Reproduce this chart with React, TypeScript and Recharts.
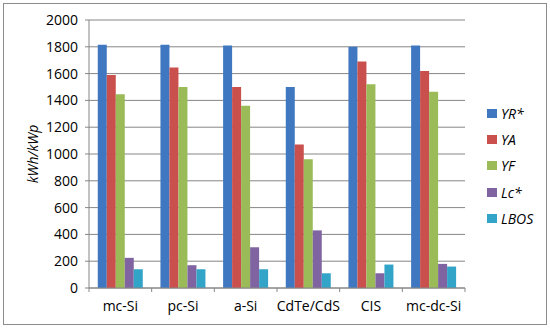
import { BarChart, Bar, XAxis, YAxis, CartesianGrid } from 'recharts';

const categories = ['mc-Si', 'pc-Si', 'a-Si', 'CdTe/CdS', 'CIS', 'mc-dc-Si'];
const yr = [1815, 1815, 1810, 1500, 1800, 1810];
const ya = [1590, 1645, 1500, 1070, 1690, 1620];
const yf = [1445, 1500, 1360, 960, 1520, 1465];
const lc = [225, 170, 305, 430, 110, 180];
const lbos = [140, 140, 140, 110, 175, 160];
const yTicks = [0, 200, 400, 600, 800, 1000, 1200, 1400, 1600, 1800, 2000];

const series = [
  { key: 'yr', name: 'YR*', color: '#3f78c1' },
  { key: 'ya', name: 'YA', color: '#c9504d' },
  { key: 'yf', name: 'YF', color: '#9bbb59' },
  { key: 'lc', name: 'Lc*', color: '#8064a2' },
  { key: 'lbos', name: 'LBOS', color: '#32a4c8' },
];

const data = categories.map((c, i) => ({
  cat: c,
  yr: yr[i],
  ya: ya[i],
  yf: yf[i],
  lc: lc[i],
  lbos: lbos[i],
}));

const FONT = '"Open Sans", sans-serif';
const BAND = 376 / categories.length;

function CatTick(props: any) {
  const { x, y, payload, index } = props;
  const last = index === categories.length - 1;
  return (
    <g>
      <line x1={x - BAND / 2} y1={y - 8} x2={x - BAND / 2} y2={y - 4} stroke="#888" />
      {last && <line x1={x + BAND / 2} y1={y - 8} x2={x + BAND / 2} y2={y - 4} stroke="#888" />}
      <text x={x} y={y + 15} textAnchor="middle" fontSize={14} fill="#000" fontFamily={FONT}>
        {payload.value}
      </text>
    </g>
  );
}

function LegendBox() {
  return (
    <div style={{ position: 'absolute', left: 487, top: 100 }}>
      {series.map((s) => (
        <div key={s.key} style={{ display: 'flex', alignItems: 'center', height: 26.3 }}>
          <div style={{ width: 10, height: 9, background: s.color, marginRight: 4 }} />
          <span style={{ fontStyle: 'italic', fontSize: 14, fontFamily: FONT, color: '#000' }}>{s.name}</span>
        </div>
      ))}
    </div>
  );
}

export default function App() {
  return (
    <div style={{ position: 'absolute', left: 0, top: 0, width: 550, height: 329, background: '#fff' }}>
      <div
        style={{
          position: 'absolute',
          left: 3,
          top: 3,
          width: 542,
          height: 320,
          border: '1px solid #8c8c8c',
        }}
      />
      <BarChart
        width={550}
        height={329}
        data={data}
        margin={{ top: 20, right: 85, left: 0, bottom: 0 }}
        barCategoryGap="14%"
        barGap={0}
      >
        <CartesianGrid vertical={false} stroke="#868686" />
        <XAxis
          dataKey="cat"
          height={41}
          axisLine={{ stroke: '#868686' }}
          tickLine={false}
          tick={<CatTick />}
          interval={0}
        />
        <YAxis
          width={89}
          domain={[0, 2000]}
          ticks={yTicks}
          interval={0}
          axisLine={{ stroke: '#868686' }}
          tickLine={{ stroke: '#868686' }}
          tickSize={4}
          tickMargin={7}
          tick={{ fontSize: 14, fill: '#000', fontFamily: FONT }}
          label={{
            value: 'kWh/kWp',
            angle: -90,
            position: 'insideLeft',
            offset: 33,
            style: { fontStyle: 'italic', fontSize: 14, fill: '#000', fontFamily: FONT, textAnchor: 'middle' },
          }}
        />
        {series.map((s) => (
          <Bar key={s.key} dataKey={s.key} name={s.name} fill={s.color} isAnimationActive={false} />
        ))}
      </BarChart>
      <LegendBox />
    </div>
  );
}
